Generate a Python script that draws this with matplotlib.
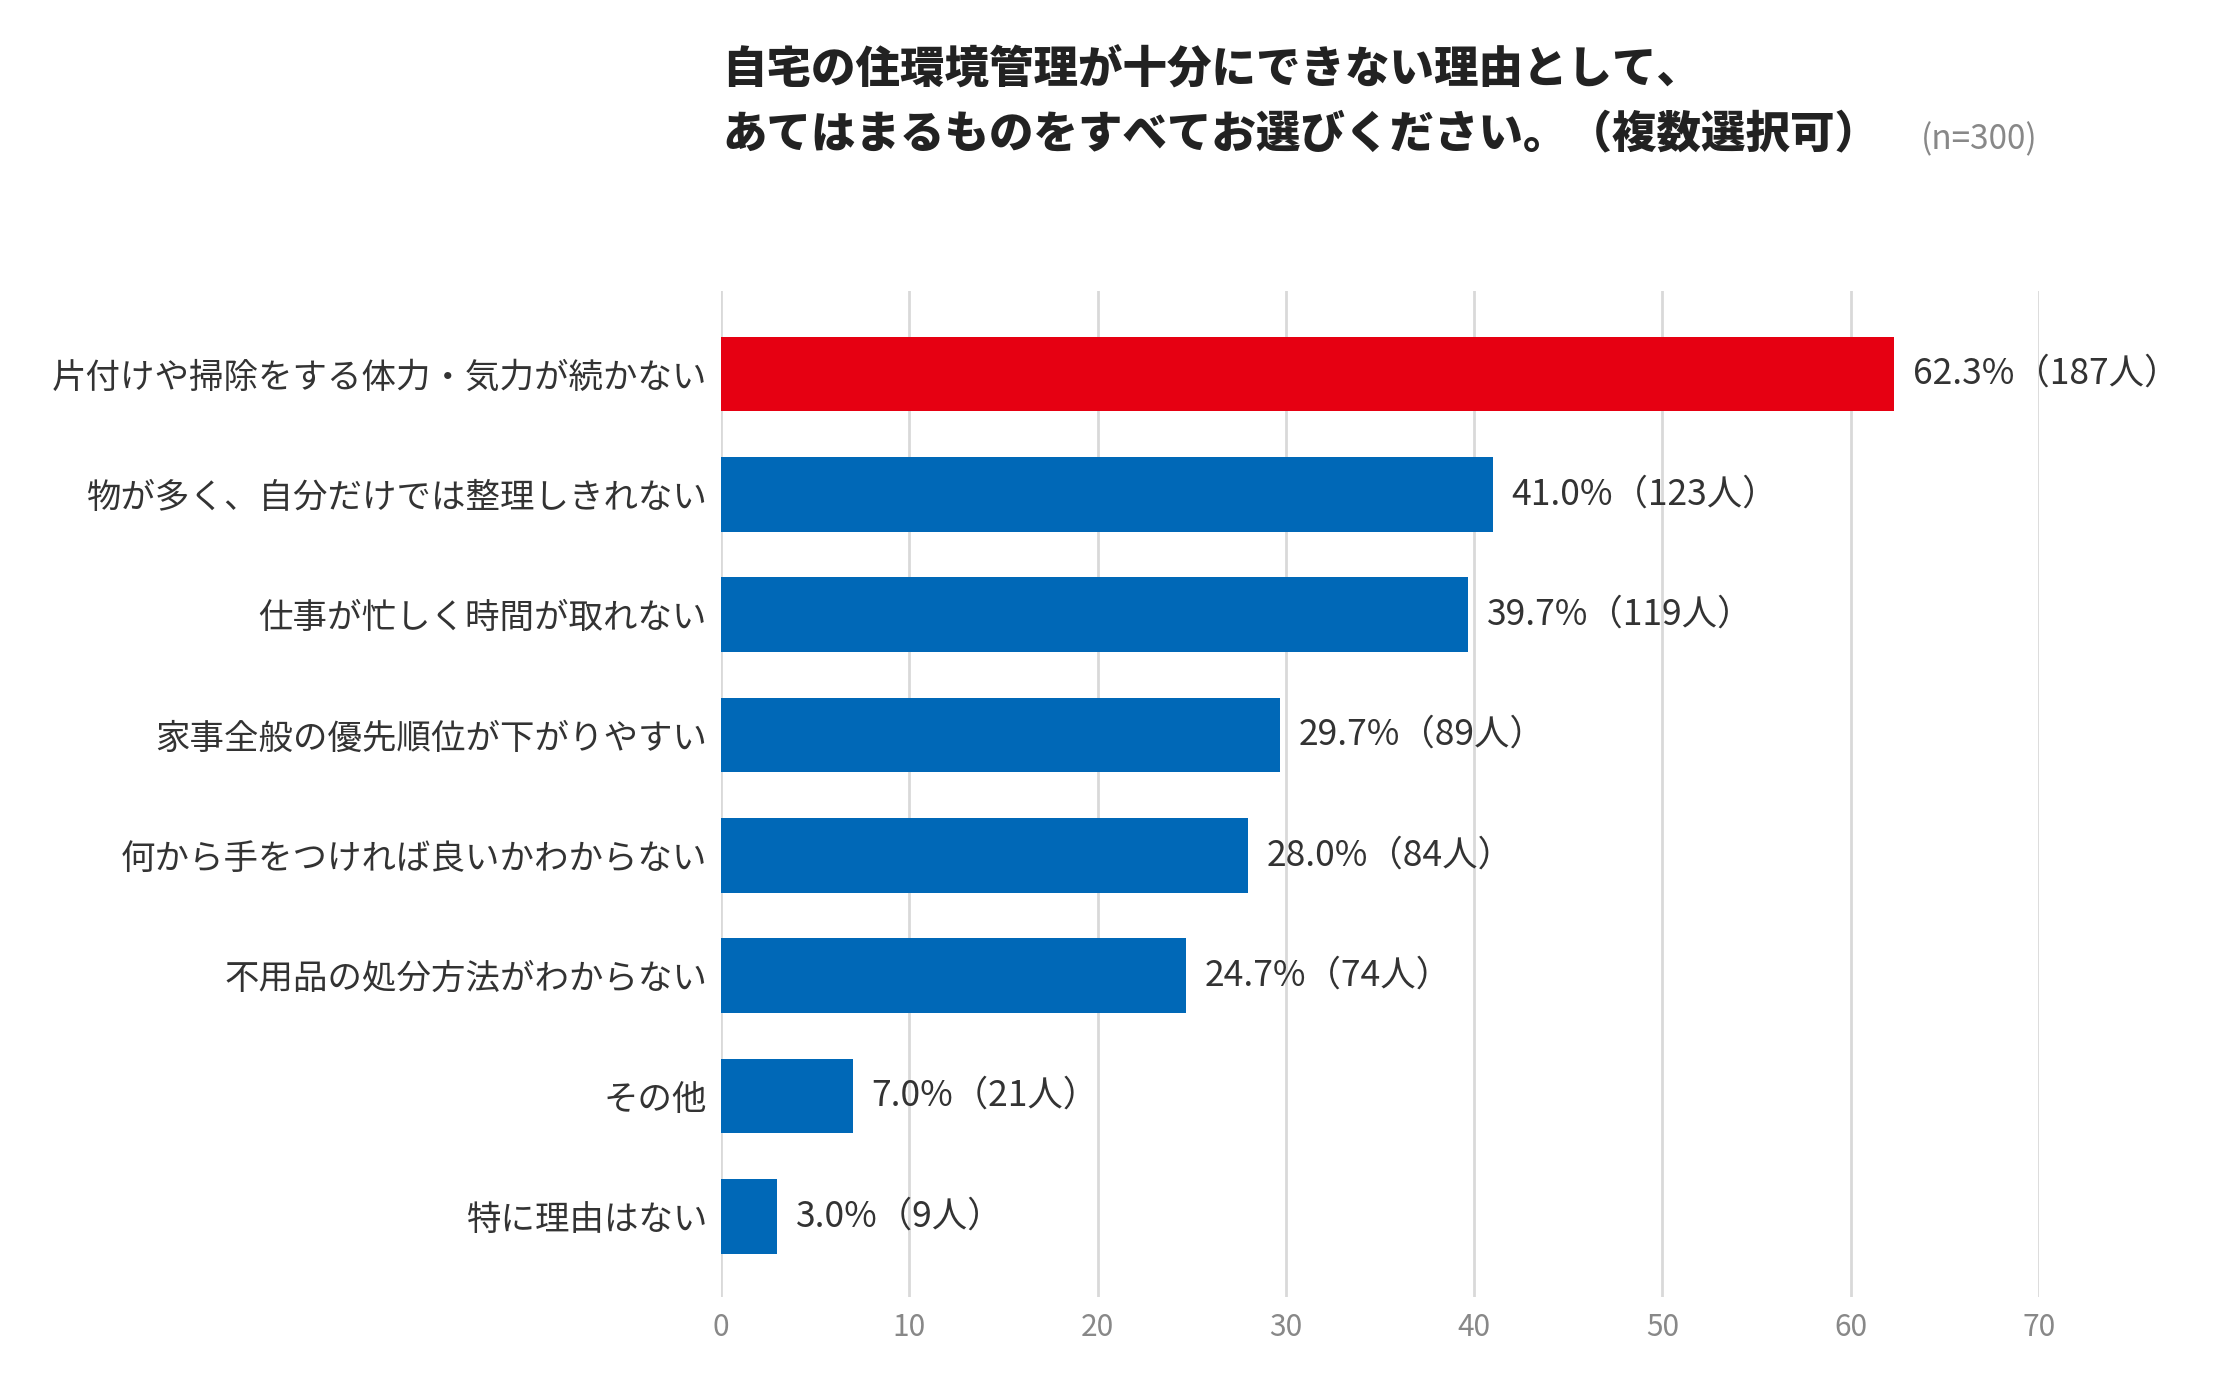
import matplotlib
matplotlib.use("Agg")
import matplotlib.pyplot as plt

plt.rcParams['font.family'] = ['Noto Sans CJK JP', 'DejaVu Sans']

title_line1 = "自宅の住環境管理が十分にできない理由として、"
title_line2 = "あてはまるものをすべてお選びください。（複数選択可）"
sample_note = "(n=300)"

categories = [
    "片付けや掃除をする体力・気力が続かない",
    "物が多く、自分だけでは整理しきれない",
    "仕事が忙しく時間が取れない",
    "家事全般の優先順位が下がりやすい",
    "何から手をつければ良いかわからない",
    "不用品の処分方法がわからない",
    "その他",
    "特に理由はない",
]
percents = [62.3, 41.0, 39.7, 29.7, 28.0, 24.7, 7.0, 3.0]
counts = [187, 123, 119, 89, 84, 74, 21, 9]
xticks = [0, 10, 20, 30, 40, 50, 60, 70]

RED = "#E60012"
BLUE = "#0068B7"
TEXT = "#333333"
GRAY = "#888888"
GRID = "#d9d9d9"

fig = plt.figure(figsize=(22.28, 13.89), dpi=100)
ax = fig.add_axes([721/2228, 1 - 1297/1389, (2039-721)/2228, (1297-291)/1389])

colors = [RED] + [BLUE] * (len(categories) - 1)
ypos = list(range(len(categories)))
ax.barh(ypos, percents, height=0.62, color=colors, zorder=3)

for y, p, c in zip(ypos, percents, counts):
    ax.annotate(f"{p:.1f}%（{c}人）", xy=(p, y), xytext=(13.5, 0),
                textcoords="offset points", va="center", ha="left",
                fontsize=25.5, color=TEXT, annotation_clip=False)

ax.set_xlim(0, 70)
ax.set_ylim(7.67, -0.69)
ax.set_xticks(xticks)
ax.set_xticklabels([str(t) for t in xticks])
ax.set_yticks(ypos)
ax.set_yticklabels(categories)
ax.tick_params(axis="y", length=0, pad=10, labelsize=24.8, labelcolor=TEXT)
ax.tick_params(axis="x", length=0, pad=11, labelsize=21.5, labelcolor=GRAY)
ax.grid(axis="x", color=GRID, linewidth=2, zorder=0)
ax.grid(axis="y", visible=False)
for s in ax.spines.values():
    s.set_visible(False)

fig.text(722/2228, 1 - 70/1389, title_line1, fontsize=32, fontweight="heavy",
         color="#222222", ha="left", va="center")
fig.text(722/2228, 1 - 134/1389, title_line2, fontsize=32, fontweight="heavy",
         color="#222222", ha="left", va="center")
fig.text(2038/2228, 1 - 140/1389, sample_note, fontsize=24, color=GRAY,
         ha="right", va="center")

fig.savefig("out.png", dpi=100, facecolor="white")
